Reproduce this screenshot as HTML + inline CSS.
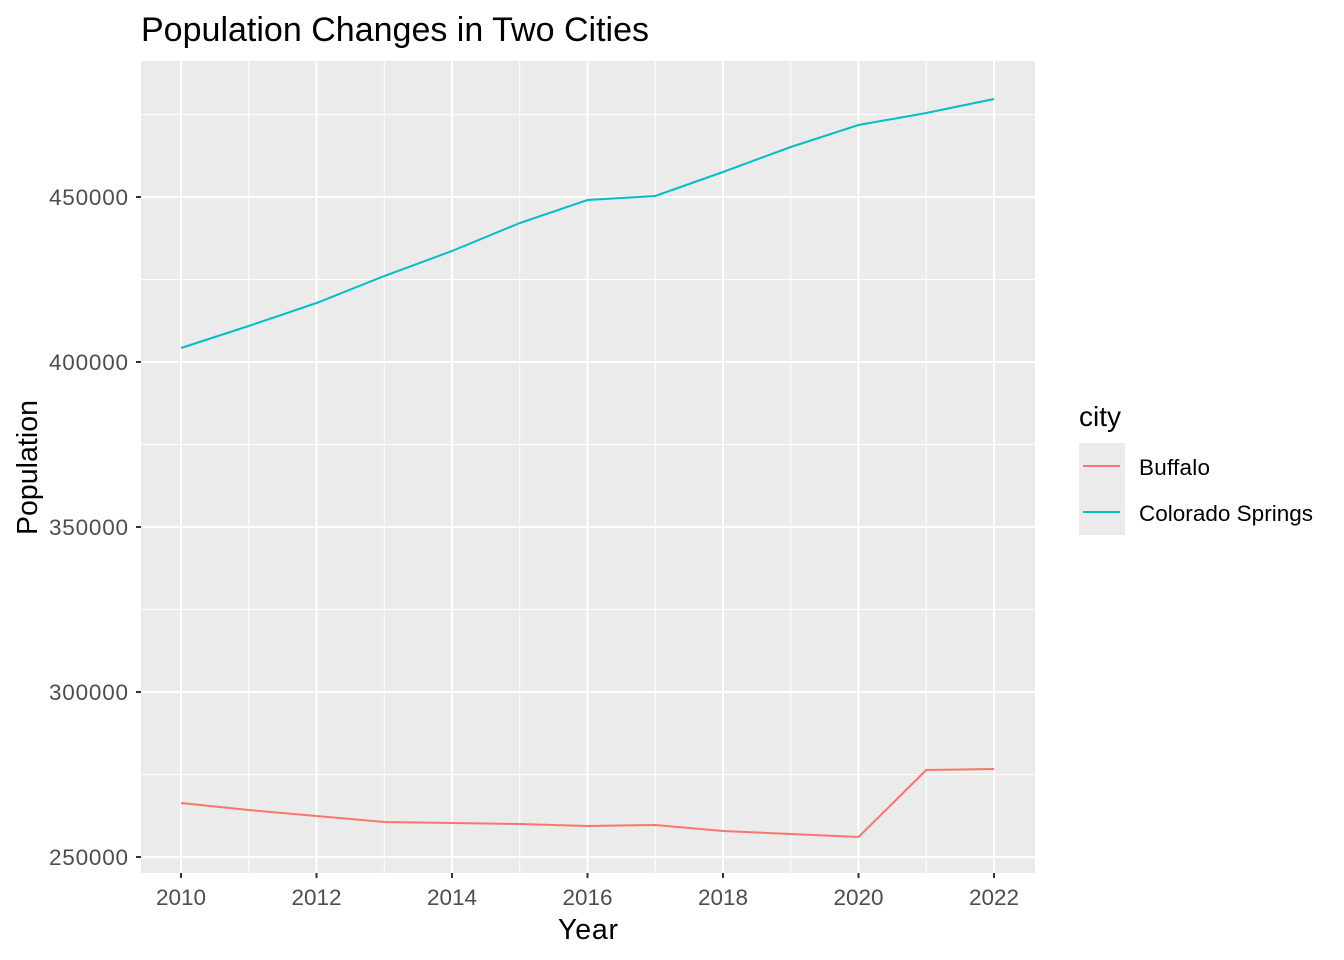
<!DOCTYPE html>
<html><head><meta charset="utf-8"><style>body{margin:0;background:#fff}svg{display:block}text{font-family:"Liberation Sans",sans-serif}</style></head><body>
<svg width="1344" height="960" viewBox="0 0 1344 960">
<rect x="141" y="61" width="894" height="812" fill="#ebebeb"/>
<g stroke="#fff" stroke-width="1">
<line x1="141" x2="1035" y1="114.5" y2="114.5"/><line x1="141" x2="1035" y1="279.5" y2="279.5"/><line x1="141" x2="1035" y1="444.5" y2="444.5"/><line x1="141" x2="1035" y1="609.5" y2="609.5"/><line x1="141" x2="1035" y1="774.5" y2="774.5"/>
<line y1="61" y2="873" x1="248.75" x2="248.75"/><line y1="61" y2="873" x1="384.25" x2="384.25"/><line y1="61" y2="873" x1="519.75" x2="519.75"/><line y1="61" y2="873" x1="655.25" x2="655.25"/><line y1="61" y2="873" x1="790.75" x2="790.75"/><line y1="61" y2="873" x1="926.25" x2="926.25"/>
</g>
<g stroke="#fff" stroke-width="2">
<line x1="141" x2="1035" y1="197" y2="197"/><line x1="141" x2="1035" y1="362" y2="362"/><line x1="141" x2="1035" y1="527" y2="527"/><line x1="141" x2="1035" y1="692" y2="692"/><line x1="141" x2="1035" y1="857" y2="857"/>
<line y1="61" y2="873" x1="181" x2="181"/><line y1="61" y2="873" x1="316.5" x2="316.5"/><line y1="61" y2="873" x1="452" x2="452"/><line y1="61" y2="873" x1="587.5" x2="587.5"/><line y1="61" y2="873" x1="723" x2="723"/><line y1="61" y2="873" x1="858.5" x2="858.5"/><line y1="61" y2="873" x1="994" x2="994"/>
</g>
<polyline fill="none" stroke="#00bfc4" stroke-width="2" points="181,348 248.75,326 316.5,303 384.25,276 452,251 519.75,223 587.5,200 655.25,196 723,172 790.75,147 858.5,125 926.25,113 994,99"/>
<polyline fill="none" stroke="#f8766d" stroke-width="2" points="181,803 248.75,810 316.5,816 384.25,822 452,823 519.75,824 587.5,826 655.25,825 723,831 790.75,834 858.5,837 926.25,770 994,769"/>
<g stroke="#333" stroke-width="2">
<line x1="136" x2="141" y1="197" y2="197"/><line x1="136" x2="141" y1="362" y2="362"/><line x1="136" x2="141" y1="527" y2="527"/><line x1="136" x2="141" y1="692" y2="692"/><line x1="136" x2="141" y1="857" y2="857"/>
<line y1="873" y2="878" x1="181" x2="181"/><line y1="873" y2="878" x1="316.5" x2="316.5"/><line y1="873" y2="878" x1="452" x2="452"/><line y1="873" y2="878" x1="587.5" x2="587.5"/><line y1="873" y2="878" x1="723" x2="723"/><line y1="873" y2="878" x1="858.5" x2="858.5"/><line y1="873" y2="878" x1="994" x2="994"/>
</g>
<g fill="#4d4d4d" font-size="22.5" text-anchor="end">
<text x="128" y="205" textLength="79">450000</text><text x="128" y="370" textLength="79">400000</text><text x="128" y="535" textLength="79">350000</text><text x="128" y="700" textLength="79">300000</text><text x="128" y="865" textLength="79">250000</text>
</g>
<g fill="#4d4d4d" font-size="22.5" text-anchor="middle">
<text x="181" y="905">2010</text><text x="316.5" y="905">2012</text><text x="452" y="905">2014</text><text x="587.5" y="905">2016</text><text x="723" y="905">2018</text><text x="858.5" y="905">2020</text><text x="994" y="905">2022</text>
</g>
<text x="558" y="939" font-size="28.5" textLength="60">Year</text>
<text transform="translate(37,535) rotate(-90)" font-size="28.5" textLength="135">Population</text>
<text x="141" y="41" font-size="34" textLength="508">Population Changes in Two Cities</text>
<text x="1079" y="426" font-size="28">city</text>
<rect x="1079" y="443" width="46" height="92" fill="#ebebeb"/>
<line x1="1083" x2="1120" y1="466" y2="466" stroke="#f8766d" stroke-width="2"/>
<line x1="1083" x2="1120" y1="512" y2="512" stroke="#00bfc4" stroke-width="2"/>
<text x="1139" y="475" font-size="22.5" textLength="71">Buffalo</text>
<text x="1139" y="521" font-size="22.5" textLength="174">Colorado Springs</text>
</svg>
</body></html>
